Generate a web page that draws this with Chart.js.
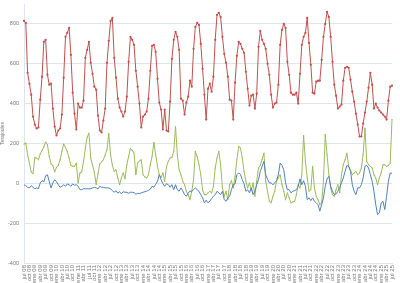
<!DOCTYPE html>
<html>
<head>
<meta charset="utf-8">
<script src="https://cdn.jsdelivr.net/npm/chart.js@4"></script>
<style>
  html, body { margin: 0; padding: 0; background: #fff; }
  #wrap { width: 400px; height: 283px; }
</style>
</head>
<body>
<div id="wrap"><canvas id="chart" width="400" height="283"></canvas></div>
<script>
// months and start of the series (monthly data, jul 2008 onward)
const MONTHS = ['ene', 'feb', 'mar', 'abr', 'may', 'jun', 'jul', 'ago', 'sep', 'oct', 'nov', 'dic'];
const START_YEAR = 2008;
const START_MONTH = 6; // jul
const Y_TICKS = [-400, -200, 0, 200, 400, 600, 800];

const redValues = [
  815,805,555,500,445,335,295,275,280,420,
  535,710,720,545,495,500,375,285,240,265,
  275,345,530,735,755,780,645,455,350,270,
  400,380,380,415,630,670,710,605,550,485,
  470,340,265,255,315,375,605,715,815,830,
  630,530,425,380,360,335,360,435,610,735,
  720,695,565,485,400,
  280,335,345,360,425,565,690,695,660,525,
  405,370,270,370,265,260,410,625,720,760,
  735,670,425,415,345,405,435,515,485,675,
  785,805,795,700,575,445,320,475,500,460,
  535,720,845,855,835,735,650,605,535,420,
  415,320,505,640,710,700,675,655,560,475,
  390,440,445,375,450,685,765,720,700,675,
  600,545,
  445,380,400,405,495,695,770,800,780,610,
  545,455,445,445,455,400,550,695,735,755,
  830,705,595,455,450,510,515,515,620,735,
  800,860,835,735,610,495,440,375,385,395,
  515,580,585,580,520,460,410,350,295,235,
  235,300,355,410,480,555,495,375,400,380,
  365,355,345,335,320,415,485,490
];

const greenValues = [
  197,202,143,102,57,48,130,127,118,148,
  165,182,207,193,135,97,90,57,80,90,
  118,160,197,180,160,127,90,85,85,102,
  2,52,57,110,177,230,252,127,90,57,
  -7,47,97,107,118,143,168,250,143,90,
  60,68,27,-7,27,52,23,93,135,
  175,165,152,43,102,113,118,43,32,27,
  43,93,135,205,143,85,43,30,52,10,
  85,110,127,130,160,285,143,68,43,10,
  -7,-40,-57,-82,-40,18,160,135,93,43,
  -32,-57,-57,-48,-40,-48,-15,77,127,160,
  93,-23,-65,-40,-82,-7,13,-23,35,118,
  185,177,127,60,10,-23,2,-37,2,-65,
  10,77,
  90,120,152,10,-40,-90,-98,-65,-40,13,
  27,43,-7,-40,-82,-48,-73,-98,-93,-90,
  -57,-7,-23,43,240,110,27,-40,-32,85,
  -23,-65,-82,-107,-98,10,245,143,43,-23,
  -57,-65,-32,-7,-48,43,93,118,152,85,
  68,43,52,60,43,52,77,143,277,110,
  93,85,77,43,27,-7,27,52,93,93,
  85,90,100,320
];

const blueValues = [
  -7,-12,-20,-23,-12,-20,-28,-23,-27,2,
  13,7,38,43,8,-23,2,18,8,-7,
  -20,-15,-7,-15,-3,-7,-15,-3,-10,-7,
  -15,-32,-32,-27,-28,-27,-28,-27,-23,-20,
  -23,-28,-15,-20,-20,-23,-23,-23,-28,-37,
  -45,-37,-50,-42,-53,-42,-45,-45,-50,
  -45,-45,-47,-55,-50,-52,-48,-45,-42,-40,-35,-30,-15,-20,-5,10,43,
  18,-2,-15,-2,-7,-20,-7,-32,-7,-32,
  -40,-23,-37,-57,-65,-48,-40,-40,-32,-23,
  -32,-40,-57,-73,-98,-85,-98,-90,-77,-65,
  -57,-40,-48,-57,-40,-82,-90,-73,-65,-32,
  -7,-3,43,52,45,18,-2,-40,-32,-48,
  -23,-57,-40,-7,18,
  60,85,110,43,20,2,2,-7,2,13,
  43,102,90,68,2,-32,-32,-48,-40,-37,
  -32,-15,22,-7,13,-15,-82,-73,-87,-73,
  -90,-98,-107,-140,-107,-73,-15,22,35,-15,
  -40,-57,-53,-40,-23,2,27,60,90,85,
  60,-7,-40,-57,-23,-23,-7,27,85,90,
  77,43,10,-40,-107,-157,-148,-98,-90,-132,
  -65,10,52,50
];

const labels = redValues.map((_, i) => {
    const m = START_MONTH + i;
    const year = START_YEAR + Math.floor(m / 12);
    return MONTHS[m % 12] + ' ' + String(year % 100).padStart(2, '0');
});

const gridColor = '#dfe5f0';
const textColor = '#777777';

const ctx = document.getElementById('chart').getContext('2d');
new Chart(ctx, {
    type: 'line',
    data: {
        labels: labels,
        datasets: [
            {
                label: 'Serie 3',
                data: blueValues,
                borderColor: '#4f81bd',
                backgroundColor: '#4f81bd',
                borderWidth: 1,
                pointRadius: 0,
                tension: 0,
                order: 2
            },
            {
                label: 'Serie 2',
                data: greenValues,
                borderColor: '#9bbb59',
                backgroundColor: '#9bbb59',
                borderWidth: 1,
                pointRadius: 0.6,
                pointBorderWidth: 0,
                tension: 0,
                order: 3
            },
            {
                label: 'Serie 1',
                data: redValues,
                borderColor: '#c0504d',
                backgroundColor: '#c0504d',
                borderWidth: 1,
                pointRadius: 1.1,
                pointBorderWidth: 0,
                tension: 0,
                order: 1
            }
        ]
    },
    options: {
        responsive: false,
        animation: false,
        devicePixelRatio: 1,
        layout: {
            padding: { left: 0, right: 8, top: 0, bottom: 0 }
        },
        plugins: {
            legend: { display: false },
            tooltip: { enabled: false }
        },
        scales: {
            x: {
                offset: false,
                grid: { display: false, drawTicks: false },
                border: { display: true, color: gridColor },
                ticks: {
                    autoSkip: false,
                    minRotation: 90,
                    maxRotation: 90,
                    padding: 2,
                    color: textColor,
                    font: { family: 'Liberation Sans', size: 6 },
                    callback: function(value, index) {
                        return index % 3 === 0 ? labels[index] : '';
                    }
                },
                afterFit: function(scale) {
                    scale.height = 20;
                    scale.paddingLeft = 0;
                    scale.paddingRight = 0;
                }
            },
            y: {
                min: -400,
                max: 900,
                grid: { color: gridColor, lineWidth: 1, drawTicks: false },
                border: { display: true, color: gridColor },
                afterBuildTicks: function(scale) {
                    scale.ticks = Y_TICKS.map(v => ({ value: v }));
                },
                ticks: {
                    padding: 5,
                    color: textColor,
                    font: { family: 'Liberation Sans', size: 5.5 }
                },
                title: {
                    display: true,
                    text: 'Terajoules',
                    color: textColor,
                    padding: 0,
                    font: { family: 'Liberation Sans', size: 5 }
                },
                afterFit: function(scale) {
                    scale.width = 24;
                    scale.paddingTop = 0;
                    scale.paddingBottom = 0;
                }
            }
        }
    }
});
</script>
</body>
</html>
